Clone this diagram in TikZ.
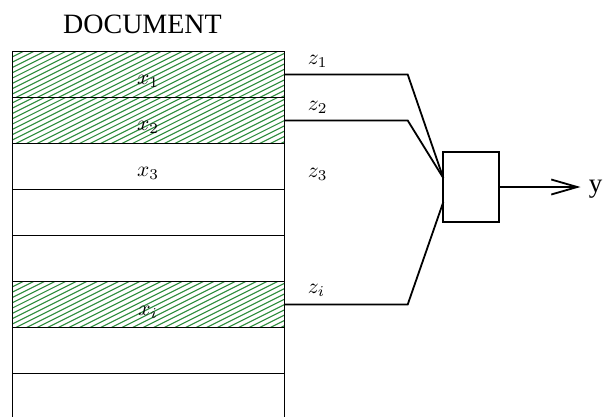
\documentclass[tikz,border=0pt]{standalone}
\usepackage{graphicx}
\usepackage{fontspec}
\newfontfamily\timesfont{Liberation Serif}
\usetikzlibrary{arrows.meta}
\definecolor{hatchgreen}{RGB}{45,140,60}
\newcommand\biglabel[1]{\scalebox{2.15}{$#1$}}

\tikzset{
  row/.style={draw, minimum width=272pt, minimum height=46pt, inner sep=0pt, outer sep=0pt, anchor=north west},
  hatchline/.style={draw=hatchgreen, line width=1.1pt},
  hatched/.style={path picture={
      \foreach \k in {0,...,36}
        \draw[hatchline] ([yshift=-\k*5.3pt]path picture bounding box.north west) -- ++(300pt,150pt);
  }},
  mathlabel/.style={inner sep=0pt},
  unit/.style={draw, minimum width=55.4pt, minimum height=69.7pt, inner sep=0pt, outer sep=0pt},
  wire/.style={line width=1.8pt},
}

\begin{document}
\begin{tikzpicture}[x=1pt, y=-1pt, line width=1.8pt]
\useasboundingbox (0,0) rectangle (604,416);

% document title
\node[font=\timesfont\fontsize{28}{30}\selectfont, anchor=base, inner sep=0pt] (title) at (142.5,33) {DOCUMENT};

% rows of the document
\node[row, hatched] (r1) at (12.5,51.5)  {};
\node[row, hatched] (r2) at (12.5,97.5)  {};
\node[row]          (r3) at (12.5,143.5) {};
\node[row]          (r4) at (12.5,189.5) {};
\node[row]          (r5) at (12.5,235.5) {};
\node[row, hatched] (r6) at (12.5,281.5) {};
\node[row]          (r7) at (12.5,327.5) {};
% last row, open at the bottom
\coordinate (r8bl) at ([yshift=-44pt]r7.south west);
\coordinate (r8br) at ([yshift=-44pt]r7.south east);
\draw (r7.south west) -- (r8bl);
\draw (r7.south east) -- (r8br);

% row labels
\node[mathlabel, anchor=base] (x1) at (148,84.5)  {\biglabel{x_1}};
\node[mathlabel, anchor=base] (x2) at (148,130.5) {\biglabel{x_2}};
\node[mathlabel, anchor=base] (x3) at (148,176.5) {\biglabel{x_3}};
\node[mathlabel, anchor=base] (xi) at (148,315)   {\biglabel{x_i}};

% combining unit
\node[unit] (sum) at (471,187) {};
\coordinate (bend) at (407.7,0);
\coordinate (in12) at ([yshift=9pt]sum.west);
\coordinate (ini)  at ([yshift=-15pt]sum.west);

% scores
\node[mathlabel, anchor=base west] (z1) at (307,64.5)  {\biglabel{z_1}};
\node[mathlabel, anchor=base west] (z2) at (307,110.5) {\biglabel{z_2}};
\node[mathlabel, anchor=base west] (z3) at (307,177)   {\biglabel{z_3}};
\node[mathlabel, anchor=base west] (zi) at (307,293)   {\biglabel{z_i}};

% connectors into the unit
\draw[wire] (r1.east) -- (r1.east -| bend) -- (in12);
\draw[wire] (r2.east) -- (r2.east -| bend) -- (in12);
\draw[wire] (r6.east) -- (r6.east -| bend) -- (ini);

% output
\node[font=\timesfont\fontsize{27}{30}\selectfont, anchor=base west, inner sep=0pt] (y) at (588,192) {y};
\draw[wire, -{Straight Barb[length=26pt, width=15pt]}, shorten >=7.5pt] (sum.east) -- (sum.east -| y.west);
\end{tikzpicture}
\end{document}
